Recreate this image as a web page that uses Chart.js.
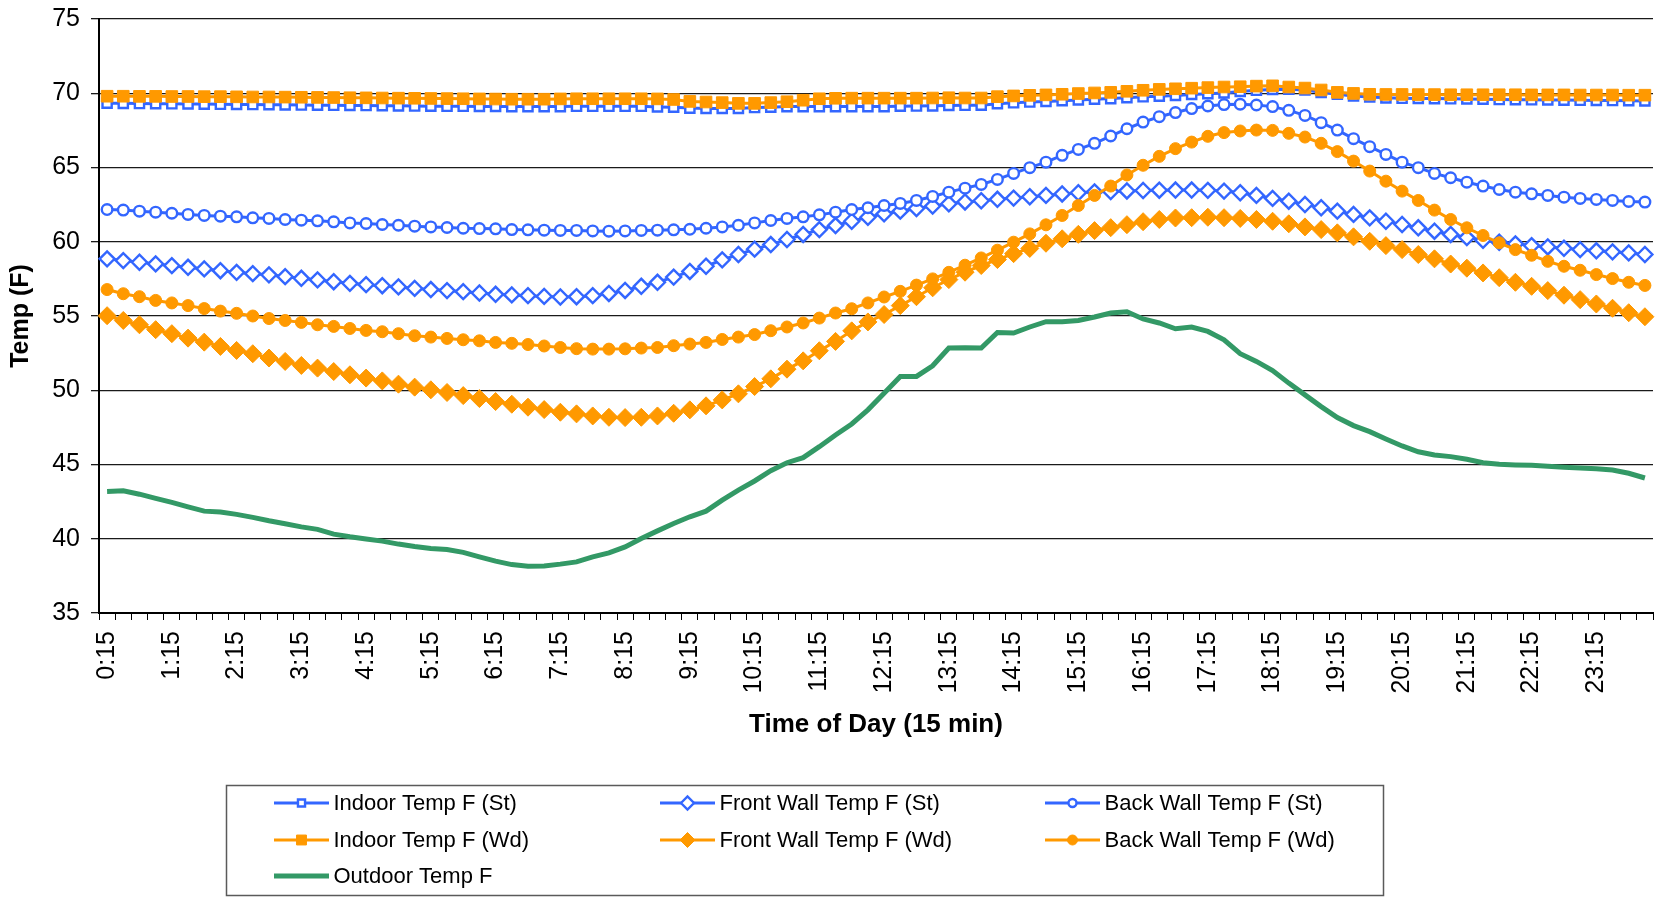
<!DOCTYPE html>
<html>
<head>
<meta charset="utf-8">
<script src="https://cdn.jsdelivr.net/npm/chart.js@4.4.1/dist/chart.umd.min.js"></script>
<style>
  html, body { margin: 0; padding: 0; background: #fff; }
  #wrap { width: 1663px; height: 898px; }
</style>
</head>
<body>
<div id="wrap"><canvas id="chart" width="1663" height="898"></canvas></div>
<script>
// 15-minute time steps over one day
const times = ['0:15','0:30','0:45','1:00','1:15','1:30','1:45','2:00','2:15','2:30','2:45','3:00',
  '3:15','3:30','3:45','4:00','4:15','4:30','4:45','5:00','5:15','5:30','5:45','6:00',
  '6:15','6:30','6:45','7:00','7:15','7:30','7:45','8:00','8:15','8:30','8:45','9:00',
  '9:15','9:30','9:45','10:00','10:15','10:30','10:45','11:00','11:15','11:30','11:45','12:00',
  '12:15','12:30','12:45','13:00','13:15','13:30','13:45','14:00','14:15','14:30','14:45','15:00',
  '15:15','15:30','15:45','16:00','16:15','16:30','16:45','17:00','17:15','17:30','17:45','18:00',
  '18:15','18:30','18:45','19:00','19:15','19:30','19:45','20:00','20:15','20:30','20:45','21:00',
  '21:15','21:30','21:45','22:00','22:15','22:30','22:45','23:00','23:15','23:30','23:45','24:00'];

// labels printed on the time axis
const tickLabels = ['0:15','1:15','2:15','3:15','4:15','5:15','6:15','7:15','8:15','9:15','10:15','11:15',
  '12:15','13:15','14:15','15:15','16:15','17:15','18:15','19:15','20:15','21:15','22:15','23:15'];

const yTicks = { min: 35, max: 75, step: 5 };

const indoorSt = [69.33,69.32,69.31,69.30,69.29,69.28,69.27,69.26,69.25,69.24,69.23,69.22,
  69.21,69.20,69.19,69.18,69.17,69.16,69.15,69.14,69.13,69.12,69.12,69.11,
  69.11,69.10,69.10,69.10,69.10,69.12,69.12,69.12,69.12,69.12,69.08,69.06,
  69.00,68.98,68.98,68.98,69.04,69.06,69.10,69.10,69.10,69.10,69.10,69.10,
  69.10,69.13,69.14,69.15,69.18,69.19,69.20,69.30,69.36,69.41,69.45,69.50,
  69.55,69.60,69.64,69.70,69.76,69.80,69.85,69.92,69.97,70.02,70.12,70.20,
  70.26,70.27,70.22,70.06,69.93,69.82,69.75,69.69,69.66,69.65,69.64,69.63,
  69.62,69.60,69.58,69.57,69.56,69.55,69.54,69.53,69.52,69.51,69.50,69.48];

const frontSt = [58.85,58.73,58.62,58.51,58.39,58.28,58.17,58.05,57.94,57.85,57.77,57.65,
  57.54,57.43,57.31,57.20,57.11,57.04,56.96,56.86,56.78,56.71,56.64,56.55,
  56.46,56.42,56.37,56.32,56.28,56.30,56.37,56.52,56.72,57.00,57.27,57.62,
  58.00,58.35,58.78,59.14,59.50,59.81,60.15,60.49,60.82,61.09,61.38,61.65,
  61.88,62.06,62.24,62.40,62.56,62.68,62.76,62.86,62.94,63.03,63.12,63.22,
  63.30,63.36,63.38,63.42,63.45,63.47,63.48,63.48,63.46,63.41,63.30,63.12,
  62.92,62.73,62.51,62.29,62.06,61.84,61.61,61.38,61.16,60.94,60.71,60.49,
  60.28,60.10,59.97,59.86,59.74,59.65,59.56,59.47,59.39,59.32,59.25,59.14];

const backSt = [62.17,62.13,62.06,61.99,61.92,61.84,61.77,61.72,61.68,61.61,61.57,61.50,
  61.45,61.41,61.34,61.27,61.23,61.16,61.11,61.05,61.00,60.96,60.91,60.89,
  60.87,60.82,60.80,60.78,60.76,60.76,60.73,60.71,60.73,60.76,60.78,60.80,
  60.84,60.91,61.00,61.11,61.27,61.43,61.57,61.68,61.81,61.99,62.17,62.29,
  62.44,62.58,62.78,63.05,63.34,63.61,63.86,64.20,64.60,64.99,65.36,65.82,
  66.22,66.63,67.12,67.61,68.06,68.42,68.70,68.97,69.14,69.24,69.26,69.21,
  69.10,68.85,68.51,68.02,67.52,66.94,66.40,65.88,65.36,64.99,64.60,64.31,
  64.01,63.75,63.52,63.34,63.23,63.12,63.00,62.92,62.85,62.78,62.71,62.67];

const indoorWd = [69.80,69.80,69.79,69.79,69.78,69.78,69.77,69.77,69.76,69.75,69.75,69.74,
  69.73,69.72,69.71,69.70,69.69,69.68,69.67,69.66,69.65,69.64,69.63,69.62,
  69.61,69.60,69.60,69.60,69.62,69.63,69.63,69.63,69.63,69.63,69.62,69.58,
  69.45,69.41,69.37,69.32,69.32,69.37,69.43,69.53,69.63,69.66,69.67,69.67,
  69.67,69.67,69.67,69.68,69.70,69.68,69.68,69.77,69.82,69.86,69.89,69.93,
  69.98,70.02,70.06,70.13,70.20,70.26,70.30,70.34,70.38,70.42,70.44,70.48,
  70.50,70.42,70.35,70.22,70.06,69.99,69.93,69.92,69.92,69.91,69.91,69.90,
  69.90,69.90,69.90,69.90,69.89,69.89,69.89,69.88,69.88,69.88,69.87,69.87];

const frontWd = [55.02,54.70,54.41,54.08,53.81,53.51,53.24,52.95,52.68,52.46,52.17,51.94,
  51.67,51.49,51.26,51.04,50.82,50.63,50.41,50.21,50.03,49.85,49.64,49.44,
  49.24,49.06,48.86,48.70,48.52,48.41,48.27,48.18,48.16,48.18,48.27,48.45,
  48.68,48.95,49.35,49.76,50.25,50.77,51.42,51.98,52.66,53.29,54.00,54.60,
  55.10,55.70,56.30,56.90,57.45,57.95,58.40,58.80,59.20,59.55,59.90,60.20,
  60.50,60.75,60.95,61.15,61.35,61.50,61.60,61.62,61.65,61.62,61.57,61.50,
  61.38,61.21,61.00,60.82,60.60,60.33,60.03,59.74,59.47,59.14,58.85,58.50,
  58.22,57.90,57.58,57.27,57.00,56.71,56.40,56.10,55.81,55.52,55.22,54.95];

const backWd = [56.78,56.50,56.30,56.05,55.88,55.70,55.50,55.33,55.18,55.00,54.83,54.70,
  54.57,54.41,54.30,54.16,54.03,53.94,53.81,53.67,53.58,53.49,53.40,53.33,
  53.22,53.16,53.08,52.98,52.88,52.80,52.77,52.77,52.79,52.84,52.88,53.00,
  53.11,53.22,53.42,53.58,53.75,54.01,54.26,54.53,54.86,55.20,55.49,55.88,
  56.28,56.66,57.08,57.50,57.94,58.42,58.91,59.43,59.97,60.53,61.14,61.77,
  62.44,63.12,63.75,64.50,65.15,65.75,66.27,66.71,67.10,67.35,67.46,67.52,
  67.50,67.30,67.05,66.63,66.07,65.43,64.76,64.08,63.41,62.78,62.13,61.50,
  60.94,60.42,59.93,59.47,59.09,58.68,58.35,58.08,57.79,57.52,57.27,57.06];

const outdoor = [43.19,43.23,43.00,42.72,42.45,42.15,41.86,41.80,41.64,41.44,41.21,41.01,
  40.80,40.63,40.31,40.13,39.99,39.84,39.64,39.48,39.35,39.28,39.08,38.78,
  38.49,38.26,38.15,38.17,38.29,38.44,38.78,39.05,39.45,40.02,40.53,41.03,
  41.48,41.86,42.60,43.28,43.89,44.58,45.12,45.46,46.20,46.99,47.73,48.68,
  49.80,50.93,50.93,51.65,52.84,52.86,52.84,53.89,53.85,54.26,54.62,54.62,
  54.70,54.93,55.20,55.29,54.80,54.53,54.14,54.26,53.96,53.40,52.46,51.94,
  51.33,50.48,49.69,48.90,48.16,47.62,47.21,46.72,46.25,45.86,45.64,45.53,
  45.35,45.12,45.01,44.97,44.95,44.88,44.81,44.76,44.72,44.63,44.41,44.09];

const BLUE = '#3366FF';
const ORANGE = '#FF9900';
const GREEN = '#339966';
const FONT = "'Liberation Sans', Arial, Helvetica, sans-serif";

function series(label, data, color, width, style, radius, hollow, legendRadius) {
  return {
    label, data,
    borderColor: color,
    backgroundColor: color,
    borderWidth: width,
    pointStyle: style || false,
    pointRadius: style ? radius : 0,
    pointHoverRadius: style ? radius : 0,
    pointBackgroundColor: hollow ? '#FFFFFF' : color,
    pointBorderColor: color,
    pointBorderWidth: hollow ? 2.4 : 1,
    legendRadius: legendRadius,
    tension: 0,
    fill: false
  };
}

const datasets = [
  series('Indoor Temp F (St)', indoorSt, BLUE, 3, 'rect', 6.5, true, 5),
  series('Front Wall Temp F (St)', frontSt, BLUE, 3, 'rectRot', 7.5, true, 6.5),
  series('Back Wall Temp F (St)', backSt, BLUE, 3, 'circle', 5.3, true, 4),
  series('Indoor Temp F (Wd)', indoorWd, ORANGE, 3, 'rect', 8.2, false, 7),
  series('Front Wall Temp F (Wd)', frontWd, ORANGE, 3, 'rectRot', 9, false, 7.5),
  series('Back Wall Temp F (Wd)', backWd, ORANGE, 3, 'circle', 6, false, 5),
  series('Outdoor Temp F', outdoor, GREEN, 5, null, 0, false, 0)
];
// later series are painted above earlier ones
datasets.forEach((d, i) => { d.order = datasets.length - i; });

// boxed three-column legend below the time-axis title
const boxLegend = {
  id: 'boxLegend',
  afterDraw(chart) {
    const ctx = chart.ctx;
    ctx.save();
    ctx.strokeStyle = '#5a5a5a';
    ctx.lineWidth = 1.5;
    ctx.strokeRect(226.5, 785.5, 1157, 110);
    const colX = [274, 660, 1045];
    const rowY = [803, 840, 876];
    chart.data.datasets.forEach((ds, i) => {
      const x = colX[i % 3];
      const y = rowY[Math.floor(i / 3)];
      ctx.strokeStyle = ds.borderColor;
      ctx.lineWidth = ds.borderWidth;
      ctx.beginPath();
      ctx.moveTo(x, y);
      ctx.lineTo(x + 55, y);
      ctx.stroke();
      if (ds.pointRadius > 0) {
        ctx.fillStyle = ds.pointBackgroundColor;
        ctx.strokeStyle = ds.pointBorderColor;
        ctx.lineWidth = ds.pointBorderWidth;
        Chart.helpers.drawPoint(ctx, {
          pointStyle: ds.pointStyle,
          radius: ds.legendRadius,
          borderWidth: ds.pointBorderWidth,
          rotation: 0
        }, x + 27.5, y);
      }
      ctx.fillStyle = '#000';
      ctx.font = '22px ' + FONT;
      ctx.textAlign = 'left';
      ctx.textBaseline = 'middle';
      ctx.fillText(ds.label, x + 59.5, y + 1);
    });
    ctx.restore();
  }
};

new Chart(document.getElementById('chart'), {
  type: 'line',
  data: { labels: times, datasets },
  options: {
    responsive: false,
    animation: false,
    devicePixelRatio: 1,
    layout: { padding: { left: 0, right: 0, top: 19, bottom: 158 } },
    plugins: {
      legend: { display: false },
      tooltip: { enabled: false }
    },
    scales: {
      x: {
        type: 'category',
        offset: true,
        grid: {
          offset: true,
          drawOnChartArea: false,
          drawTicks: true,
          tickLength: 7,
          color: '#000',
          lineWidth: 1
        },
        border: { display: true, color: '#000', width: 2 },
        ticks: {
          autoSkip: false,
          minRotation: 90,
          maxRotation: 90,
          padding: 11,
          color: '#000',
          font: { family: FONT, size: 25 },
          callback: function (value) {
            const t = this.getLabelForValue(value);
            return tickLabels.includes(t) ? t : '';
          }
        },
        title: {
          display: true,
          text: 'Time of Day (15 min)',
          color: '#000',
          font: { family: FONT, size: 26, weight: 'bold' },
          padding: 0
        },
        afterFit(scale) {
          scale.height = 127;
          scale.paddingLeft = 0;
          scale.paddingRight = 0;
        }
      },
      y: {
        min: yTicks.min,
        max: yTicks.max,
        ticks: {
          stepSize: yTicks.step,
          padding: 11,
          color: '#000',
          font: { family: FONT, size: 25 }
        },
        grid: { color: '#1a1a1a', lineWidth: 1.3, tickLength: 8 },
        border: { display: true, color: '#000', width: 2 },
        title: {
          display: true,
          text: 'Temp (F)',
          color: '#000',
          font: { family: FONT, size: 25, weight: 'bold' },
          padding: { top: 6, bottom: 0 }
        },
        afterFit(scale) {
          scale.width = 99;
          scale.paddingTop = 0;
          scale.paddingBottom = 0;
        }
      }
    }
  },
  plugins: [boxLegend]
});
</script>
</body>
</html>
